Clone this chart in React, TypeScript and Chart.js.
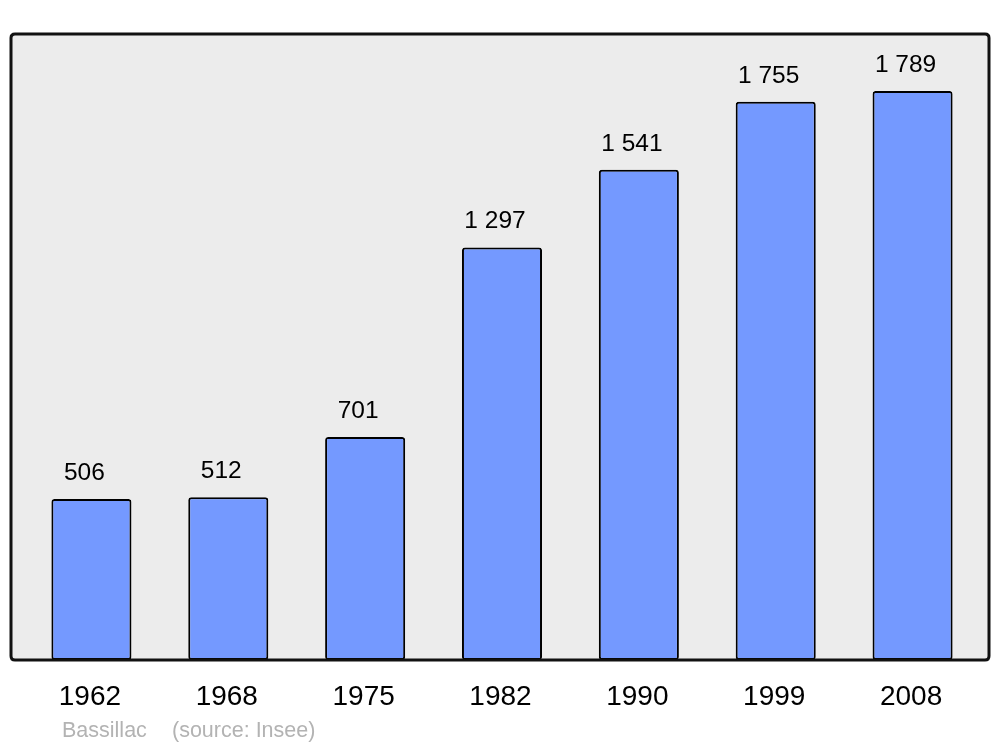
import React, { useEffect, useRef } from "react";
import { Chart, registerables } from "chart.js";

Chart.register(...registerables);

const years = ["1962", "1968", "1975", "1982", "1990", "1999", "2008"];
const population = [506, 512, 701, 1297, 1541, 1755, 1789];
const valueLabels = ["506", "512", "701", "1 297", "1 541", "1 755", "1 789"];
const commune = "Bassillac";
const source = "(source: Insee)";

const FONT = '"Liberation Sans", Arial, sans-serif';

function roundRect(ctx: CanvasRenderingContext2D, x: number, y: number, w: number, h: number, r: number) {
  ctx.beginPath();
  ctx.moveTo(x + r, y);
  ctx.lineTo(x + w - r, y);
  ctx.quadraticCurveTo(x + w, y, x + w, y + r);
  ctx.lineTo(x + w, y + h - r);
  ctx.quadraticCurveTo(x + w, y + h, x + w - r, y + h);
  ctx.lineTo(x + r, y + h);
  ctx.quadraticCurveTo(x, y + h, x, y + h - r);
  ctx.lineTo(x, y + r);
  ctx.quadraticCurveTo(x, y, x + r, y);
  ctx.closePath();
}

const decor = {
  id: "decor",
  beforeDatasetsDraw(chart: any) {
    const ctx = chart.ctx as CanvasRenderingContext2D;
    const y = chart.scales.y;
    const top = y.getPixelForValue(y.max);
    const bottom = y.getPixelForValue(0);
    ctx.save();
    roundRect(ctx, 11, top, 978, bottom - top, 4);
    ctx.fillStyle = "#ececec";
    ctx.fill();
    ctx.restore();
  },
  afterDatasetsDraw(chart: any) {
    const ctx = chart.ctx as CanvasRenderingContext2D;
    const x = chart.scales.x;
    const y = chart.scales.y;
    const top = y.getPixelForValue(y.max);
    const bottom = y.getPixelForValue(0);
    ctx.save();
    roundRect(ctx, 11, top, 978, bottom - top, 4);
    ctx.lineWidth = 3;
    ctx.strokeStyle = "#111111";
    ctx.stroke();

    ctx.textAlign = "center";
    ctx.textBaseline = "middle";
    ctx.fillStyle = "#000000";
    ctx.font = `24.5px ${FONT}`;
    population.forEach((v, i) => {
      const px = x.getPixelForValue(i);
      const py = y.getPixelForValue(v);
      ctx.fillText(valueLabels[i], px - 7, py - 26);
    });
    ctx.font = `28px ${FONT}`;
    years.forEach((yr, i) => {
      const px = x.getPixelForValue(i);
      ctx.fillText(yr, px - 1.5, bottom + 37);
    });
    ctx.textAlign = "left";
    ctx.fillStyle = "#b3b3b3";
    ctx.font = `21.5px ${FONT}`;
    ctx.fillText(commune, 62, bottom + 71);
    ctx.fillText(source, 172, bottom + 71);
    ctx.restore();
  },
};

export default function App() {
  const ref = useRef<HTMLCanvasElement | null>(null);
  useEffect(() => {
    document.body.style.margin = "0";
    const chart = new Chart(ref.current as HTMLCanvasElement, {
      type: "bar",
      data: {
        labels: years,
        datasets: [
          {
            data: population,
            backgroundColor: "#7499ff",
            borderColor: "#000000",
            borderWidth: 2,
            borderRadius: 3,
            borderSkipped: false,
            barPercentage: 0.585,
            categoryPercentage: 1,
          },
        ],
      },
      options: {
        responsive: false,
        animation: false,
        devicePixelRatio: 1,
        layout: { padding: { left: 23, right: 19, top: 34, bottom: 87 } },
        plugins: { legend: { display: false }, tooltip: { enabled: false } },
        scales: {
          x: { display: false, offset: true },
          y: { display: false, min: 0, max: 1968 },
        },
      },
      plugins: [decor],
    });
    return () => chart.destroy();
  }, []);
  return (
    <div style={{ position: "absolute", left: 0, top: 0, width: 1000, height: 747, background: "#fff" }}>
      <canvas ref={ref} width={1000} height={747} />
    </div>
  );
}
